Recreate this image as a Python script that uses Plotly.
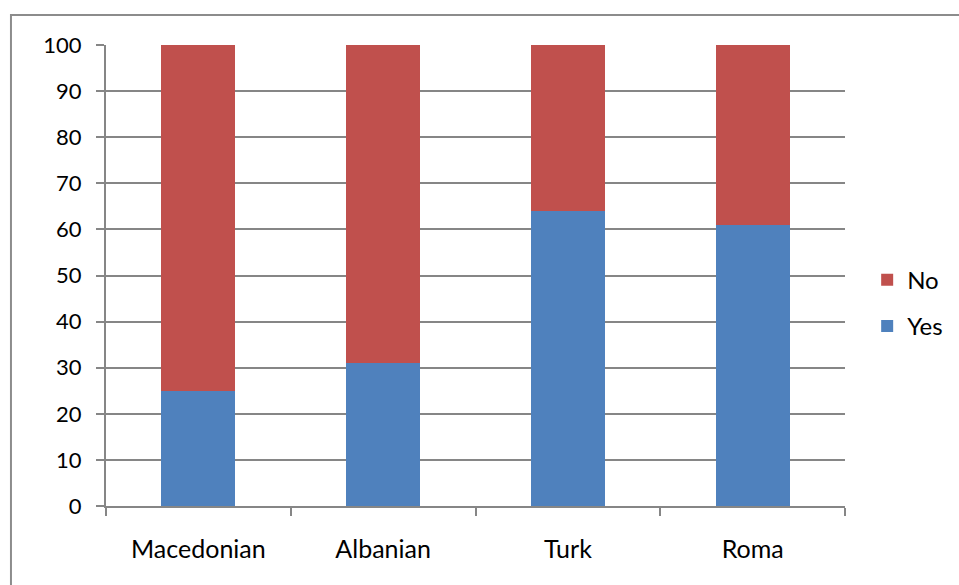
import plotly.graph_objects as go

groups = ["Macedonian", "Albanian", "Turk", "Roma"]
yes_vals = [25, 31, 64, 61]
no_vals = [75, 69, 36, 39]
y_ticks = list(range(0, 101, 10))

BLUE = "#4F81BD"
RED = "#C0504D"
GRID = "#868686"

fig = go.Figure()
fig.add_trace(go.Bar(x=groups, y=yes_vals, name="Yes", marker_color=BLUE,
                     marker_line_width=0, width=0.4, legendgroup="yes", legendrank=2))
fig.add_trace(go.Bar(x=groups, y=no_vals, name="No", marker_color=RED,
                     marker_line_width=0, width=0.4, legendgroup="no", legendrank=1))

fig.update_layout(
    barmode="stack",
    width=959, height=585,
    margin=dict(l=106, r=114, t=45, b=79, autoexpand=False),
    paper_bgcolor="white", plot_bgcolor="white",
    font=dict(family="Lato, Liberation Sans, sans-serif", size=22, color="#000000"),
    legend=dict(x=1.03, y=0.44, xanchor="left", yanchor="middle",
                traceorder="grouped", tracegroupgap=12,
                font=dict(size=24), itemwidth=30),
    showlegend=True,
    xaxis=dict(
        type="category", showgrid=False, showline=True, linecolor=GRID, linewidth=2,
        ticks="outside", tickson="boundaries", ticklen=8, tickcolor=GRID, tickwidth=2,
        ticklabelstandoff=20, tickfont=dict(size=25),
    ),
    yaxis=dict(
        range=[0, 100], tickvals=y_ticks, showgrid=True, gridcolor=GRID, gridwidth=1.5,
        showline=True, linecolor=GRID, linewidth=2, zeroline=False,
        ticks="outside", ticklen=8, tickcolor=GRID, tickwidth=2,
        ticklabelstandoff=10, tickfont=dict(size=22),
    ),
    shapes=[dict(type="rect", xref="paper", yref="paper",
                 x0=-0.1286, x1=1.3, y0=-0.4, y1=1.065,
                 line=dict(color="#8C8C8C", width=2), layer="below")],
)

fig.write_html("out.html")
